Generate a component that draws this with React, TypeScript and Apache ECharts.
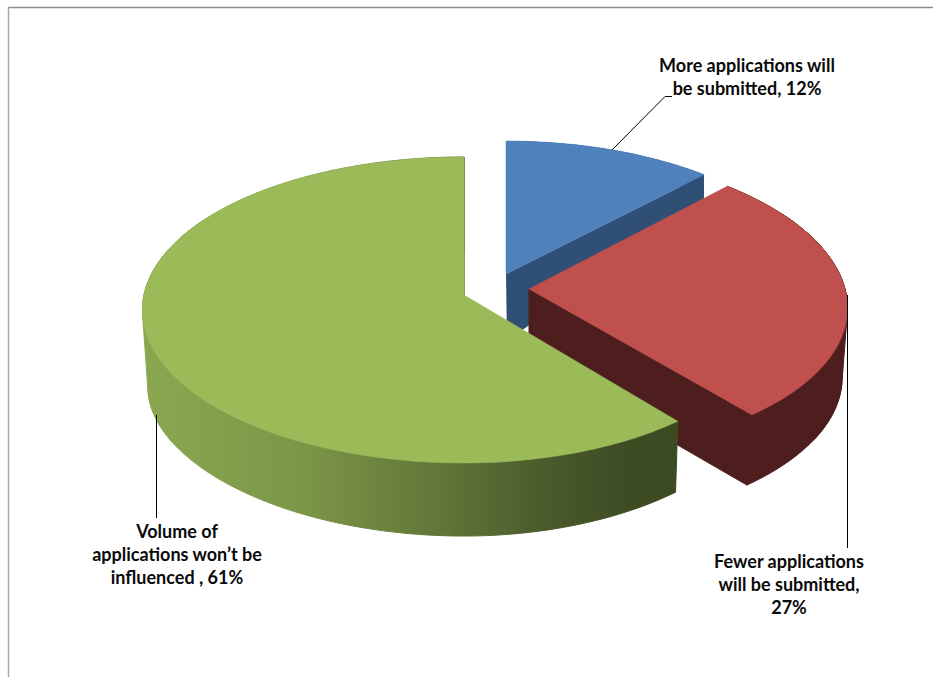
import React, { useEffect, useRef } from "react";
import * as echarts from "echarts";

const sliceValues = [12, 27, 61];
const sliceColors = ["#4f81bd", "#c0504d", "#9bbb59"];
const wallColors = ["#2f4f75", "#4d1e1d", "#4d1e1d"];
const wallEdgeWidths = [0, 1, 1];
const sliceLabels = [
  "More applications will\nbe submitted, {v}%",
  "Fewer applications\nwill be submitted,\n{v}%",
  "Volume of\napplications won’t be\ninfluenced , {v}%",
];

// Each wedge sits on its own exploded centre, with a top disc and a lower disc
// projected separately so the extrusion shows perspective.
const discs = [
  {
    top: { ax: 506, ay: 274, rxL: 310, rxR: 310, ry: 146, kx: 0.098, ky: 0.098 },
    base: { ax: 507, ay: 341, rxL: 312, rxR: 312, ry: 200, kx: 0.117, ky: 0.05 },
  },
  {
    top: { ax: 529, ay: 289, rxL: 316, rxR: 316, ry: 151, kx: 0.125, ky: 0.098 },
    base: { ax: 529, ay: 359, rxL: 311, rxR: 311, ry: 151, kx: 0.117, ky: 0.1 },
  },
  {
    top: { ax: 464, ay: 295, rxL: 320, rxR: 310, ry: 151.5, kx: 0.098, ky: 0.098 },
    base: { ax: 464, ay: 370, rxL: 314, rxR: 302, ry: 137.8, kx: 0.117, ky: 0.17 },
  },
];

const labelAnchors = [
  { x: 747, y: 53 },
  { x: 789, y: 549 },
  { x: 177, y: 519 },
];
const leaderLines = [
  [[612, 150], [665, 96.5], [672, 96.5]],
  [[847.5, 295], [847.5, 548]],
  [[156.5, 415], [156.5, 518]],
];

type Disc = (typeof discs)[number]["top"];

const project = (d: Disc, angle: number): number[] => {
  const u = Math.sin(angle);
  const v = Math.cos(angle);
  const rx = u < 0 ? d.rxL : d.rxR;
  return [d.ax + (rx * u) / (1 + d.kx * v), d.ay - (d.ry * v) / (1 + d.ky * v)];
};

const angles = (from: number, to: number): number[] => {
  const steps = Math.max(8, Math.ceil(Math.abs(to - from) * 40));
  const list: number[] = [];
  for (let i = 0; i <= steps; i++) list.push(from + ((to - from) * i) / steps);
  return list;
};

// Monotone-chain hull, used to close the side wall along its outline where the
// two discs bulge past each other.
const convexHull = (input: number[][]): number[][] => {
  const pts = [...input].sort((a, b) => a[0] - b[0] || a[1] - b[1]);
  const cross = (o: number[], a: number[], b: number[]) =>
    (a[0] - o[0]) * (b[1] - o[1]) - (a[1] - o[1]) * (b[0] - o[0]);
  const half = (list: number[][]) => {
    const out: number[][] = [];
    for (const p of list) {
      while (out.length >= 2 && cross(out[out.length - 2], out[out.length - 1], p) <= 0) out.pop();
      out.push(p);
    }
    out.pop();
    return out;
  };
  return [...half(pts), ...half([...pts].reverse())];
};

export default function App() {
  const ref = useRef<HTMLDivElement>(null);

  useEffect(() => {
    const chart = echarts.init(ref.current!, null, { renderer: "svg" });
    const total = sliceValues.reduce((a, b) => a + b, 0);

    const sideFill = new echarts.graphic.LinearGradient(
      142, 0, 678, 0,
      [
        { offset: 0, color: "#8aa850" },
        { offset: 0.3, color: "#7c9648" },
        { offset: 0.55, color: "#627738" },
        { offset: 0.75, color: "#4a5b2b" },
        { offset: 0.9, color: "#3e4c24" },
        { offset: 1, color: "#3c4a22" },
      ],
      true
    );

    chart.setOption({
      animation: false,
      backgroundColor: "#ffffff",
      graphic: [
        { type: "line", shape: { x1: 8, y1: 7.5, x2: 933, y2: 7.5 }, style: { stroke: "#8c8c8c", lineWidth: 1.5 }, silent: true },
        { type: "line", shape: { x1: 8.5, y1: 7, x2: 8.5, y2: 677 }, style: { stroke: "#a6a6a6", lineWidth: 1.5 }, silent: true },
      ],
      series: [
        {
          type: "custom",
          coordinateSystem: "none",
          clip: false,
          data: sliceValues.map((v, i) => [i, v]),
          renderItem: (params: any, api: any) => {
            const i = params.dataIndex;
            const before = sliceValues.slice(0, i).reduce((a, b) => a + b, 0);
            const start = (before / total) * Math.PI * 2;
            const end = ((before + api.value(1)) / total) * Math.PI * 2;
            const { top, base } = discs[i];
            const wall = i === 2 ? sideFill : wallColors[i];
            const edge = wallEdgeWidths[i];
            const apexTop = [top.ax, top.ay];
            const apexBase = [base.ax, base.ay];
            const poly = (points: number[][], fill: any, lineWidth: number) => ({
              type: "polygon",
              shape: { points },
              style: { fill, stroke: fill, lineWidth },
            });
            const sweep = angles(start, end);
            const topArc = sweep.map((a) => project(top, a));
            const baseArc = sweep.map((a) => project(base, a));
            const outline = sweep
              .filter((a) => Math.abs(Math.sin(a)) > 0.85)
              .flatMap((a) => [project(top, a), project(base, a)]);

            const children: any[] = [
              poly([...topArc, ...[...baseArc].reverse()], wall, edge),
            ];
            if (outline.length > 2) children.push(poly(convexHull(outline), wall, edge));
            children.push(poly([apexTop, project(top, end), project(base, end), apexBase], wall, edge));
            children.push(poly([apexTop, ...topArc], sliceColors[i], 0.5));
            children.push({
              type: "polyline",
              shape: { points: leaderLines[i] },
              style: { fill: "none", stroke: "#000000", lineWidth: 1 },
            });
            children.push({
              type: "text",
              x: labelAnchors[i].x,
              y: labelAnchors[i].y,
              style: {
                text: sliceLabels[i].replace("{v}", String(api.value(1))),
                fill: "#0a0a0a",
                font: "700 18px Lato",
                align: "center",
                verticalAlign: "top",
                lineHeight: 23,
              },
            });
            return { type: "group", children };
          },
        },
      ],
    });

    return () => chart.dispose();
  }, []);

  return (
    <div
      ref={ref}
      style={{ position: "absolute", left: 0, top: 0, width: 933, height: 677 }}
    />
  );
}
